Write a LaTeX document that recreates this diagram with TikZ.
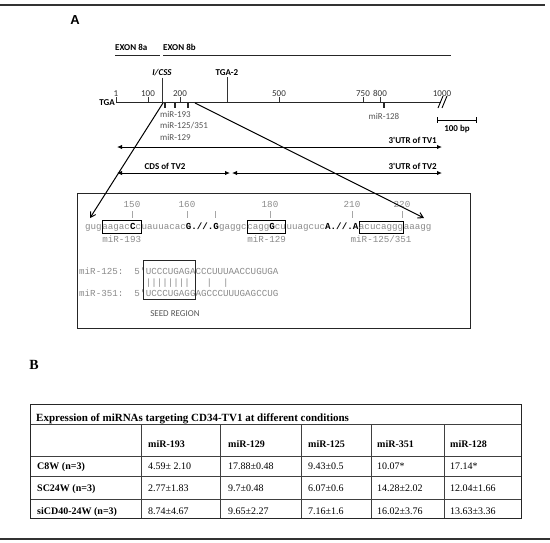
\documentclass[tikz,border=0pt]{standalone}
\usepackage{fontspec}
\setmainfont{Liberation Serif}
\newfontfamily\carl{Carlito}
\newfontfamily\monof{Liberation Mono}
\newfontfamily\arialf{Liberation Sans}
\usetikzlibrary{arrows.meta,calc}
\definecolor{seqgray}{HTML}{8A8A8A}
\definecolor{lblgray}{HTML}{555555}
\definecolor{rule}{HTML}{333333}
\tikzset{
  sans/.style={font=\carl\fontsize{9}{10}\selectfont, inner sep=0pt},
  sansg/.style={font=\carl\fontsize{9}{10}\selectfont, inner sep=0pt, text=lblgray},
  sansb/.style={font=\carl\bfseries\fontsize{9}{10}\selectfont, inner sep=0pt},
  seq/.style={font=\monof\fontsize{9.2}{10}\selectfont, text=seqgray, inner sep=0pt},
  seqbox/.style={seq, draw=black, line width=0.9pt, inner xsep=0pt, inner ysep=2.5pt},
  axisline/.style={line width=1pt, draw=black!85},
  ticka/.style={line width=1pt, draw=black!80},
  tickb/.style={line width=1.3pt, draw=black!85},
  seqtick/.style={line width=0.6pt, draw=gray!70},
  dbl/.style={line width=1pt, {Latex[length=5pt,width=4.5pt]}-{Latex[length=5pt,width=4.5pt]}},
  zoomarrow/.style={line width=1pt, -{Straight Barb[length=5pt,width=6pt]}},
  tcell/.style={font=\fontsize{10}{11}\selectfont, inner sep=0pt, anchor=base west},
  tcellb/.style={tcell, font=\bfseries\fontsize{10}{11}\selectfont},
  tline/.style={line width=0.8pt, draw=black!75},
  tborder/.style={line width=1pt, draw=black!85}
}
\begin{document}
\begin{tikzpicture}[x=1pt,y=-1pt]
\useasboundingbox (0,0) rectangle (550,542);
% rules
\coordinate (r1a) at (0,5); \coordinate (r1b) at (545,5);
\draw[line width=1.5pt, rule] (r1a) -- (r1b);
\coordinate (r2a) at (0,539); \coordinate (r2b) at (550,539);
\draw[line width=1.5pt, rule] (r2a) -- (r2b);
% panel labels
\node[font=\arialf\bfseries\fontsize{13}{14}\selectfont, inner sep=0pt] (labA) at (75,20) {A};
\node[font=\bfseries\fontsize{14}{15}\selectfont, inner sep=0pt] (labB) at (34,365) {B};
% exons
\node[sansb, anchor=base west] (ex8a) at (115,50) {EXON 8a};
\node[sansb, anchor=base west] (ex8b) at (163,50) {EXON 8b};
\coordinate (e1a) at (115,55); \coordinate (e1b) at (160,55);
\coordinate (e2a) at (163,55); \coordinate (e2b) at (451,55);
\draw[axisline] (e1a) -- (e1b);
\draw[axisline] (e2a) -- (e2b);
% axis
\coordinate (ax0) at (116,102); \coordinate (ax1) at (441,102);
\draw[axisline] (ax0) -- (ax1);
\node[sansb, anchor=east] (tga) at (115,103) {TGA};
\foreach \x/\l in {116/1,148/100,180/200,279/500,363/750,380/800,442/1000}{
  \node[sans, anchor=base, text=black!80] (n\l) at (\x,96) {\l};
}
\foreach \x/\l in {116/1,148/100,180/200,279/500,363/750,380/800}{
  \coordinate (tk\l a) at (\x,97); \coordinate (tk\l b) at (\x,102);
  \draw[ticka] (tk\l a) -- (tk\l b);
}
% break marks
\coordinate (br1a) at (438,108); \coordinate (br1b) at (443,96);
\coordinate (br2a) at (442,108); \coordinate (br2b) at (447,96);
\draw[line width=0.9pt] (br1a) -- (br1b);
\draw[line width=0.9pt] (br2a) -- (br2b);
% I/CSS and TGA-2
\node[sansb, font=\carl\bfseries\itshape\fontsize{9}{10}\selectfont, anchor=base] (icss) at (162,75) {I/CSS};
\node[sansb, anchor=base] (tga2) at (227,75) {TGA-2};
\coordinate (icssb) at (162,104);
\coordinate (tga2b) at (227,102);
\draw[ticka] ([yshift=-2pt]icss.south) -- (icssb);
\draw[ticka] ([yshift=-2pt]tga2.south) -- (tga2b);
% miRNA ticks below
\foreach \x/\n in {165/a,175/b,188/c,384/d}{
  \coordinate (mt\n a) at (\x,102); \coordinate (mt\n b) at (\x,108);
  \draw[tickb] (mt\n a) -- (mt\n b);
}
\node[sansg, anchor=base west] (m193) at (160,117) {miR-193};
\node[sansg, anchor=base west] (m125) at (160,128.5) {miR-125/351};
\node[sansg, anchor=base west] (m129) at (160,140) {miR-129};
\node[sansg, anchor=base] (m128) at (384,119) {miR-128};
% scale bar
\coordinate (sb0) at (437,120); \coordinate (sb1) at (476,120);
\draw[line width=1pt] (sb0) -- (sb1);
\draw[line width=1pt] ([yshift=3pt]sb0) -- ([yshift=-3pt]sb0);
\draw[line width=1pt] ([yshift=3pt]sb1) -- ([yshift=-3pt]sb1);
\node[sansb, anchor=base] (bp) at (457,131) {100 bp};
% transcripts
\coordinate (t1a) at (117,147); \coordinate (t1b) at (442,147);
\draw[dbl] (t1a) -- (t1b);
\node[sansb, anchor=base east] (utr1) at (437,143.5) {3'UTR of TV1};
\coordinate (t2a) at (117,173); \coordinate (t2b) at (230,173);
\draw[dbl] (t2a) -- (t2b);
\node[sansb, anchor=base] (cds2) at (165,169.5) {CDS of TV2};
\coordinate (t3a) at (232,173); \coordinate (t3b) at (442,173);
\draw[dbl] (t3a) -- (t3b);
\node[sansb, anchor=base east] (utr2) at (437,169.5) {3'UTR of TV2};
% zoom box
\coordinate (bx0) at (77,193); \coordinate (bx1) at (470,328);
\draw[line width=1pt, draw=black!85] (bx0) rectangle (bx1);
% sequence
\node[seq, anchor=base west] (s1) at (85,229) {gug};
\node[seqbox, anchor=base west] (b1) at (s1.base east) {aagac\textbf{\color{black}C}c};
\node[seq, anchor=base west] (s2) at (b1.base east) {uauuacac\textbf{\color{black}G.//.G}gaggc};
\node[seqbox, anchor=base west] (b2) at (s2.base east) {cagg\textbf{\color{black}G}cu};
\node[seq, anchor=base west] (s3) at (b2.base east) {uuagcuc\textbf{\color{black}A.//.A}};
\node[seqbox, anchor=base west] (b3) at (s3.base east) {acucaggg};
\node[seq, anchor=base west] (s4) at (b3.base east) {aaagg};
\node[seq, anchor=north] (l193) at ([yshift=-1.5pt]b1.south) {miR-193};
\node[seq, anchor=north] (l129) at ([yshift=-1.5pt]b2.south) {miR-129};
\node[seq, anchor=north] (l125) at ([yshift=-1.5pt]b3.south) {miR-125/351};
% position numbers
\foreach \x/\l/\k in {132/150/a,187/160/b,270/180/c,352/210/d,402/220/e}{
  \node[seq, anchor=base] (p\k) at (\x,207) {\l};
}
\foreach \x/\k in {132/a,187/b,215/x,270/c,352/d,402/e}{
  \coordinate (q\k a) at (\x,211); \coordinate (q\k b) at (\x,218);
  \draw[seqtick] (q\k a) -- (q\k b);
}
% zoom arrows
\coordinate (z1a) at (163,103); \coordinate (z1b) at (90,218);
\coordinate (z2a) at (195,103); \coordinate (z2b) at (424,218);
\draw[zoomarrow] (z1a) -- (z1b);
\draw[zoomarrow] (z2a) -- (z2b);
% seed alignment
\node[seq, anchor=base west] (h125) at (79,274) {miR-125:~~5'};
\node[seq, anchor=base west] (u125) at (h125.base east) {UCCCUGAGACCCUUUAACCUGUGA};
\node[seq, anchor=base west] (bars) at ($(u125.base west)+(0,11)$) {||||||||~~~|~~|};
\node[seq, anchor=base west] (h351) at (79,296) {miR-351:~~5'};
\node[seq, anchor=base west] (u351) at (h351.base east) {UCCCUGAGGAGCCCUUUGAGCCUG};
\coordinate (sd0) at ($(u125.base west)+(-2,-14)$);
\coordinate (sd1) at ($(u125.base west)+(50,25)$);
\draw[line width=1pt, draw=black!85] (sd0) rectangle (sd1);
\node[sansg, anchor=base] (seed) at (175,316) {SEED REGION};
% table
\foreach \y/\k in {404/a,518/f}{
  \coordinate (hl\k 0) at (30,\y); \coordinate (hl\k 1) at (521,\y);
}
\foreach \y/\k in {424/b,456/c,476/d,499/e}{
  \coordinate (hl\k 0) at (30,\y); \coordinate (hl\k 1) at (521,\y);
  \draw[tline] (hl\k 0) -- (hl\k 1);
}
\foreach \x/\k in {141/b,220/c,301/d,371/e,444/f}{
  \coordinate (vl\k 0) at (\x,424); \coordinate (vl\k 1) at (\x,518);
  \draw[tline] (vl\k 0) -- (vl\k 1);
}
\draw[tborder] (hla0) rectangle (hlf1);
\node[tcellb, font=\bfseries\fontsize{11}{12}\selectfont] (title) at (36,421) {Expression of miRNAs targeting CD34-TV1 at different conditions};
\foreach \x/\t/\k in {148/miR-193/a,228/miR-129/b,308/miR-125/c,377/miR-351/d,450/miR-128/e}{
  \node[tcellb] (hd\k) at (\x,447) {\t};
}
\node[tcellb] (r1) at (37,469) {C8W (n=3)};
\node[tcellb] (r2) at (37,491) {SC24W (n=3)};
\node[tcellb] (r3) at (37,514) {siCD40-24W (n=3)};
\foreach \x/\t/\k in {148/{4.59± 2.10}/a,228/{17.88±0.48}/b,308/{9.43±0.5}/c,377/{10.07*}/d,450/{17.14*}/e}{
  \node[tcell] (c1\k) at (\x,469) {\t};
}
\foreach \x/\t/\k in {148/{2.77±1.83}/a,228/{9.7±0.48}/b,308/{6.07±0.6}/c,377/{14.28±2.02}/d,450/{12.04±1.66}/e}{
  \node[tcell] (c2\k) at (\x,491) {\t};
}
\foreach \x/\t/\k in {148/{8.74±4.67}/a,228/{9.65±2.27}/b,308/{7.16±1.6}/c,377/{16.02±3.76}/d,450/{13.63±3.36}/e}{
  \node[tcell] (c3\k) at (\x,514) {\t};
}
\end{tikzpicture}
\end{document}
